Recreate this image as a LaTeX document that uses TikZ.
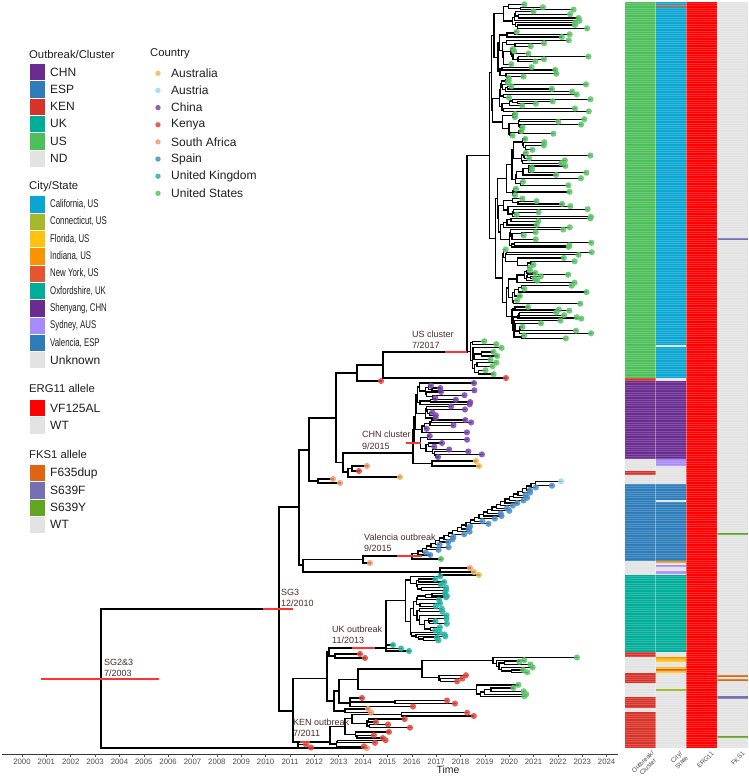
\documentclass[tikz,border=0pt]{standalone}
\usepackage{fontspec}
\setmainfont{Liberation Sans}
\newfontfamily\narrowfont[FakeStretch=0.7]{Liberation Sans}
\definecolor{cCHN}{HTML}{6A2C91}
\definecolor{cESP}{HTML}{2E7DBA}
\definecolor{cKEN}{HTML}{D83328}
\definecolor{cUK}{HTML}{00AD99}
\definecolor{cUS}{HTML}{4DBF5A}
\definecolor{cND}{HTML}{E3E3E3}
\definecolor{cCal}{HTML}{0AA6D3}
\definecolor{cCon}{HTML}{A6B92B}
\definecolor{cFlo}{HTML}{FFC20E}
\definecolor{cInd}{HTML}{F79400}
\definecolor{cNY}{HTML}{E4572E}
\definecolor{cOxf}{HTML}{00AD99}
\definecolor{cShe}{HTML}{6A2C91}
\definecolor{cSyd}{HTML}{A88BFA}
\definecolor{cVal}{HTML}{2E7DBA}
\definecolor{cVF}{HTML}{FF0000}
\definecolor{cFdup}{HTML}{E06510}
\definecolor{cSF}{HTML}{7570B3}
\definecolor{cSY}{HTML}{63A523}
\definecolor{aus}{HTML}{EFBA55}
\definecolor{aut}{HTML}{9CD6F5}
\definecolor{chn}{HTML}{7B45B0}
\definecolor{ken}{HTML}{E0463C}
\definecolor{saf}{HTML}{F59C6E}
\definecolor{esp}{HTML}{4A8DC8}
\definecolor{gbr}{HTML}{22B5A5}
\definecolor{usa}{HTML}{5BC466}
\definecolor{annot}{HTML}{4F2C2C}
\definecolor{cibcol}{HTML}{FF3333}
\definecolor{axisgray}{HTML}{4D4D4D}
\tikzset{
  br/.style={black,line width=1.3pt,line cap=rect},
  tipdot/.style={fill=#1,fill opacity=0.85},
  cib/.style={draw=cibcol,line width=2.6pt},
  ann/.style={text=annot,font=\fontsize{9}{10}\selectfont,inner sep=0pt,anchor=west},
  legtitle/.style={font=\fontsize{11.3}{13}\selectfont,inner sep=0pt,anchor=west,text=black!88},
  leglab/.style={font=\fontsize{12}{14}\selectfont,inner sep=0pt,anchor=west,text=black!88},
  citylab/.style={font=\narrowfont\fontsize{11.2}{12}\selectfont,inner sep=0pt,anchor=west,text=black!88},
  yearlab/.style={font=\fontsize{7.8}{9}\selectfont,text=axisgray,inner sep=0pt},
  hmlab/.style={font=\fontsize{6.4}{7.2}\selectfont,text=axisgray,inner sep=0pt,rotate=45,anchor=north east,align=center},
  swatch/.style={fill=#1,draw=white,line width=0.5pt},
}
\gdef\DotList{}
\gdef\BarList{}
\newcommand\hbr[3]{\draw[br] (#1,#3) -- (#2,#3);}
\newcommand\vbr[3]{\draw[br] (#1,#2) -- (#1,#3);}
\newcommand\cibar[3]{\xdef\BarList{\unexpanded\expandafter{\BarList}\noexpand\draw[cib] (#1,#3) -- (#2,#3);}}
\newcommand\tipAt[4]{\draw[br] (#1,#3) -- (#2,#3);\xdef\DotList{\unexpanded\expandafter{\DotList}\noexpand\fill[tipdot=#4] (#2,#3) circle (3.1);}}
\newcommand\hm[5]{\fill[#5] (#1,#3) rectangle (#2,#4);}
\newcommand\legsw[5]{\fill[swatch=#2] (29,#1) rectangle (45.7,#1+17.3);\node[#5,name=#3] at (50,#1+8.65) {#4};}
\makeatletter
\newcommand\cladeTree[6]{%
  \begingroup
  \pgfmathsetmacro\cl@w{#3-#2}%
  \ifdim\cl@w pt<4.6pt\relax
    \pgfmathsetmacro\cl@y{(#2+#3)/2}%
    \pgfmathsetmacro\cl@x{max(#1+2.5,#4-rnd*#5)}%
    \tipAt{#1}{\cl@x}{\cl@y}{#6}%
    \xdef\CladeRet{\cl@y}%
  \else
    \pgfmathsetmacro\cl@nx{#1+max(0.6,(#4-0.5*#5-#1)*(0.02+0.45*rnd*rnd))}%
    \pgfmathsetmacro\cl@s{#2+\cl@w*(0.15+0.7*rnd)}%
    \edef\cl@call{\noexpand\cladeTree{\cl@nx}{#2}{\cl@s}{#4}{#5}{#6}}\cl@call
    \let\cl@ya\CladeRet
    \edef\cl@call{\noexpand\cladeTree{\cl@nx}{\cl@s}{#3}{#4}{#5}{#6}}\cl@call
    \let\cl@yb\CladeRet
    \pgfmathsetmacro\cl@y{(\cl@ya+\cl@yb)/2}%
    \draw[br] (\cl@nx,\cl@ya) -- (\cl@nx,\cl@yb);
    \draw[br] (#1,\cl@y) -- (\cl@nx,\cl@y);
    \xdef\CladeRet{\cl@y}%
  \fi
  \endgroup}
\newcommand\clade[7]{\cladeTree{#2}{#3}{#4}{#5}{#6}{#7}\let#1\CladeRet}
\makeatother
\begin{document}
\pgfmathsetseed{11}
\begin{tikzpicture}[x=1pt,y=-1pt]
\useasboundingbox (0,0) rectangle (748,776);
\fill[white] (0,0) rectangle (748,776);

% ---------------- heatmap ----------------
\hm{625}{655.7}{2}{378}{cUS}
\hm{625}{655.7}{378}{381}{cKEN}
\hm{625}{655.7}{381}{459}{cCHN}
\hm{625}{655.7}{459}{471}{cND}
\hm{625}{655.7}{471}{475}{cKEN}
\hm{625}{655.7}{475}{484}{cND}
\hm{625}{655.7}{484}{561}{cESP}
\hm{625}{655.7}{561}{575}{cND}
\hm{625}{655.7}{575}{652}{cUK}
\hm{625}{655.7}{652}{657}{cKEN}
\hm{625}{655.7}{657}{673}{cND}
\hm{625}{655.7}{673}{683}{cKEN}
\hm{625}{655.7}{683}{697}{cND}
\hm{625}{655.7}{697}{708}{cKEN}
\hm{625}{655.7}{708}{712}{cND}
\hm{625}{655.7}{712}{748}{cKEN}
\hm{655.7}{686.3}{2}{378}{cCal}
\hm{655.7}{686.3}{5}{7}{cNY}
\hm{655.7}{686.3}{344.5}{346.5}{cND}
\hm{655.7}{686.3}{378}{381}{cND}
\hm{655.7}{686.3}{381}{459}{cShe}
\hm{655.7}{686.3}{459}{466}{cSyd}
\hm{655.7}{686.3}{466}{484}{cND}
\hm{655.7}{686.3}{484}{561}{cVal}
\hm{655.7}{686.3}{499.5}{501.5}{cND}
\hm{655.7}{686.3}{561}{575}{cND}
\hm{655.7}{686.3}{561}{563}{cInd}
\hm{655.7}{686.3}{565}{567}{cSyd}
\hm{655.7}{686.3}{570.5}{574}{cSyd}
\hm{655.7}{686.3}{575}{652}{cOxf}
\hm{655.7}{686.3}{652}{748}{cND}
\hm{655.7}{686.3}{657}{659}{cInd}
\hm{655.7}{686.3}{659}{661.5}{cFlo}
\hm{655.7}{686.3}{666.5}{668.5}{cFlo}
\hm{655.7}{686.3}{668.5}{670.7}{cNY}
\hm{655.7}{686.3}{670.7}{672.7}{cFlo}
\hm{655.7}{686.3}{689}{690.7}{cCon}
\hm{686.3}{717}{2}{748}{cVF}
\hm{717}{748}{2}{748}{cND}
\hm{717}{748}{237.5}{240}{cSF}
\hm{717}{748}{533}{535}{cSY}
\hm{717}{748}{675}{677}{cFdup}
\hm{717}{748}{679}{681}{cFdup}
\hm{717}{748}{696}{698.5}{cSF}
\hm{717}{748}{735.5}{738}{cSY}
\foreach \yy in {3.15,5.45,...,748}{\draw[white,opacity=0.18,line width=0.4pt] (625,\yy) -- (748,\yy);}
\foreach \xx in {655.7,686.3,717}{\draw[white,opacity=0.35,line width=0.5pt] (\xx,2) -- (\xx,748);}
\node[hmlab,name=hl1] at (651,750) {Outbreak/\\Cluster};
\node[hmlab,name=hl2] at (680,750) {City/\\State};
\node[hmlab,name=hl3] at (711,751) {ERG11};
\node[hmlab,name=hl4] at (742,751) {FKS1};

% ---------------- axis ----------------
\draw[axisgray!70!black,line width=0.6pt] (2,754) -- (618,754);
\foreach \yr [count=\k from 0] in {2000,...,2024}{
  \pgfmathsetmacro\xx{22+24.36*\k}
  \draw[axisgray,line width=0.5pt] (\xx,754) -- (\xx,756.5);
  \node[yearlab,name=yr\yr] at (\xx,762) {\yr};
}
\node[font=\fontsize{10.5}{12}\selectfont,text=black!85,inner sep=0pt,name=timelab] at (448,770) {Time};

% ---------------- legends ----------------
\node[legtitle,name=lt1] at (29,54) {Outbreak/Cluster};
\legsw{63.3}{cCHN}{lo1}{CHN}{leglab}
\legsw{80.6}{cESP}{lo2}{ESP}{leglab}
\legsw{97.9}{cKEN}{lo3}{KEN}{leglab}
\legsw{115.2}{cUK}{lo4}{UK}{leglab}
\legsw{132.5}{cUS}{lo5}{US}{leglab}
\legsw{149.8}{cND}{lo6}{ND}{leglab}
\node[legtitle,name=lt2] at (29,187) {City/State};
\legsw{195.7}{cCal}{lc1}{California, US}{citylab}
\legsw{213}{cCon}{lc2}{Connecticut, US}{citylab}
\legsw{230.3}{cFlo}{lc3}{Florida, US}{citylab}
\legsw{247.6}{cInd}{lc4}{Indiana, US}{citylab}
\legsw{264.9}{cNY}{lc5}{New York, US}{citylab}
\legsw{282.2}{cOxf}{lc6}{Oxfordshire, UK}{citylab}
\legsw{299.5}{cShe}{lc7}{Shenyang, CHN}{citylab}
\legsw{316.8}{cSyd}{lc8}{Sydney, AUS}{citylab}
\legsw{334.1}{cVal}{lc9}{Valencia, ESP}{citylab}
\legsw{351.4}{cND}{lc10}{Unknown}{leglab}
\node[legtitle,name=lt3] at (29,388) {ERG11 allele};
\legsw{399.3}{cVF}{le1}{VF125AL}{leglab}
\legsw{416.6}{cND}{le2}{WT}{leglab}
\node[legtitle,name=lt4] at (29,454) {FKS1 allele};
\legsw{464.3}{cFdup}{lf1}{F635dup}{leglab}
\legsw{481.6}{cSF}{lf2}{S639F}{leglab}
\legsw{498.9}{cSY}{lf3}{S639Y}{leglab}
\legsw{516.2}{cND}{lf4}{WT}{leglab}
\node[legtitle,name=lt5] at (150,54) {Country};
\foreach \lab/\col [count=\i] in {Australia/aus,Austria/aut,China/chn,Kenya/ken,South Africa/saf,Spain/esp,United Kingdom/gbr,United States/usa}{
  \pgfmathsetmacro\yy{73.3+(\i-1)*17.15}
  \fill[\col,fill opacity=.85] (158,\yy) circle (2.7);
  \node[leglab,name=lcn\i] at (171,\yy) {\lab};
}

% ---------------- tree backbone ----------------
\vbr{101}{609}{748}
\hbr{101}{279}{609}
\tipAt{101}{367}{748}{saf}
\cibar{41}{159}{679}
\vbr{279}{507}{711}
\hbr{279}{299}{507}
\hbr{279}{293}{711}
\cibar{263}{293}{609}
\vbr{299}{450}{565}
\hbr{299}{309}{450}
\hbr{299}{303}{565}
\vbr{309}{418}{481}
\hbr{309}{336}{418}
\hbr{309}{318}{481}
\vbr{318}{479}{483}
\tipAt{318}{333}{479}{saf}
\tipAt{318}{340}{483}{saf}
\vbr{336}{373}{462.5}
\hbr{336}{357}{373}
\hbr{336}{343}{462.5}
\vbr{357}{365}{381}
\hbr{357}{383}{365}
\tipAt{357}{381}{381}{ken}
\vbr{383}{352}{378}
\tipAt{383}{506}{378}{ken}
\hbr{383}{467}{352}
\cibar{445}{467}{352}
% US cluster
\clade\vUSa{467}{3}{340}{592}{100}{usa}
\clade\vUSb{467}{340}{376}{502}{18}{usa}
\vbr{467}{\vUSa}{\vUSb}
% CHN cluster
\vbr{343}{453}{472}
\hbr{343}{413}{453}
\cibar{406}{421}{443}
\clade\vCHN{413}{381}{458}{482}{62}{chn}
\hbr{413}{432}{463.5}
\vbr{432}{461}{466}
\tipAt{432}{476}{461}{aus}
\tipAt{432}{479}{466}{aus}
\vbr{413}{\vCHN}{463.5}
\hbr{343}{348}{472}
\vbr{348}{468.5}{477}
\hbr{348}{352}{468.5}
\vbr{352}{466}{471}
\tipAt{352}{367}{466}{saf}
\tipAt{352}{359}{471}{ken}
\tipAt{348}{400}{477}{aus}
% Valencia
\vbr{303}{559.5}{572}
\hbr{303}{363}{559.5}
\vbr{363}{556}{563}
\tipAt{363}{370}{563}{saf}
\hbr{363}{412}{556}
\cibar{397}{422}{556}
\vbr{412}{553.7}{559}
\tipAt{412}{441}{559}{usa}
\hbr{412}{418}{553.7}
\foreach \i in {0,...,26}{
  \pgfmathsetmacro\lx{418+4.35*\i}
  \pgfmathsetmacro\ly{555-2.6*\i}
  \pgfmathsetmacro\tx{\lx+3+rnd*17}
  \pgfmathsetmacro\nx{\lx+4.35}
  \pgfmathsetmacro\ny{\ly-3.9}
  \tipAt{\lx}{\tx}{\ly}{esp}
  \vbr{\lx}{\ly}{\ny}
  \hbr{\lx}{\nx}{\ny}
}
\vbr{535.5}{481.3}{485.7}
\tipAt{535.5}{552}{485.7}{esp}
\tipAt{535.5}{561}{481.3}{aut}
\hbr{303}{440}{572}
\vbr{440}{568}{575}
\tipAt{440}{470}{568}{saf}
\tipAt{440}{474}{572}{aus}
\tipAt{440}{479}{575}{aus}
% lower part: C, J
\vbr{293}{678.5}{742}
\hbr{293}{327}{678.5}
\hbr{327}{329}{652}
\vbr{329}{648}{656}
\hbr{329}{386}{648}
\cibar{352}{375}{648}
\hbr{329}{335}{656}
\vbr{335}{654}{658}
\tipAt{335}{360}{654}{ken}
\tipAt{335}{365}{658}{ken}
% UK outbreak
\clade\vUK{403}{574.5}{642}{447}{13}{gbr}
\hbr{386}{403}{\vUK}
\vbr{386}{\vUK}{651}
\tipAt{386}{393}{645}{gbr}
\tipAt{386}{401}{648.5}{gbr}
\tipAt{386}{409}{651}{gbr}
% Kenya / US group
\tipAt{493}{577}{657.5}{usa}
\clade\vKfa{493}{659}{673}{534}{16}{usa}
\vbr{493}{657.5}{\vKfa}
\pgfmathsetmacro\vKf{(657.5+\vKfa)/2}
\clade\vKg{437}{673}{683}{466}{14}{ken}
\hbr{422}{437}{\vKg}
\hbr{422}{493}{\vKf}
\vbr{422}{\vKf}{\vKg}
\pgfmathsetmacro\vKth{(\vKf+\vKg)/2}
\clade\vKh{473}{683.5}{697}{535}{22}{usa}
\hbr{358}{473}{\vKh}
\hbr{358}{422}{\vKth}
\vbr{358}{\vKth}{\vKh}
\pgfmathsetmacro\vKtw{(\vKth+\vKh)/2}
\hbr{339}{358}{\vKtw}
\tipAt{350}{362}{698}{ken}
\hbr{350}{395}{702}
\vbr{395}{700.5}{703.5}
\tipAt{395}{447}{700.5}{ken}
\tipAt{395}{455}{703.5}{ken}
\tipAt{350}{413}{706.5}{ken}
\vbr{350}{698}{706.5}
\hbr{339}{350}{703}
\vbr{339}{\vKtw}{703}
\pgfmathsetmacro\vKon{(\vKtw+703)/2}
\hbr{334}{339}{\vKon}
\hbr{334}{345}{711}
\vbr{345}{709}{712.5}
\tipAt{345}{368}{709}{saf}
\tipAt{345}{371}{712.5}{saf}
\vbr{334}{\vKon}{711}
\pgfmathsetmacro\vKz{(\vKon+711)/2}
\hbr{327}{334}{\vKz}
\vbr{327}{652}{\vKz}
% KEN outbreak
\clade\vNa{400}{710.5}{717}{474}{8}{ken}
\clade\vNb{362}{717}{729.5}{422}{56}{ken}
\hbr{352}{400}{\vNa}
\hbr{352}{362}{\vNb}
\vbr{352}{\vNa}{\vNb}
\pgfmathsetmacro\vNc{(\vNa+\vNb)/2}
\clade\vNd{345}{730.5}{739}{395}{40}{ken}
\hbr{345}{352}{\vNc}
\vbr{345}{\vNc}{\vNd}
\pgfmathsetmacro\vNe{(\vNc+\vNd)/2}
\clade\vNf{330}{739.5}{748}{398}{40}{ken}
\hbr{330}{345}{\vNe}
\vbr{330}{\vNe}{\vNf}
\hbr{293}{330}{742}
\vbr{298}{742}{747.5}
\tipAt{298}{306}{744.5}{ken}
\tipAt{298}{311}{747.5}{ken}
\cibar{300}{310}{742}

% bars and tip dots on top
\BarList
\DotList

% ---------------- annotations ----------------
\node[ann,name=a1] at (104,662) {SG2\&3};
\node[ann,name=a2] at (104,673) {7/2003};
\node[ann,name=a3] at (281,592) {SG3};
\node[ann,name=a4] at (281,603) {12/2010};
\node[ann,name=a5] at (293,722) {KEN outbreak};
\node[ann,name=a6] at (293,733) {7/2011};
\node[ann,name=a7] at (332,629) {UK outbreak};
\node[ann,name=a8] at (332,640) {11/2013};
\node[ann,name=a9] at (364,537) {Valencia outbreak};
\node[ann,name=a10] at (364,548) {9/2015};
\node[ann,name=a11] at (362,434) {CHN cluster};
\node[ann,name=a12] at (362,446) {9/2015};
\node[ann,name=a13] at (412,334) {US cluster};
\node[ann,name=a14] at (412,345) {7/2017};
\end{tikzpicture}
\end{document}
